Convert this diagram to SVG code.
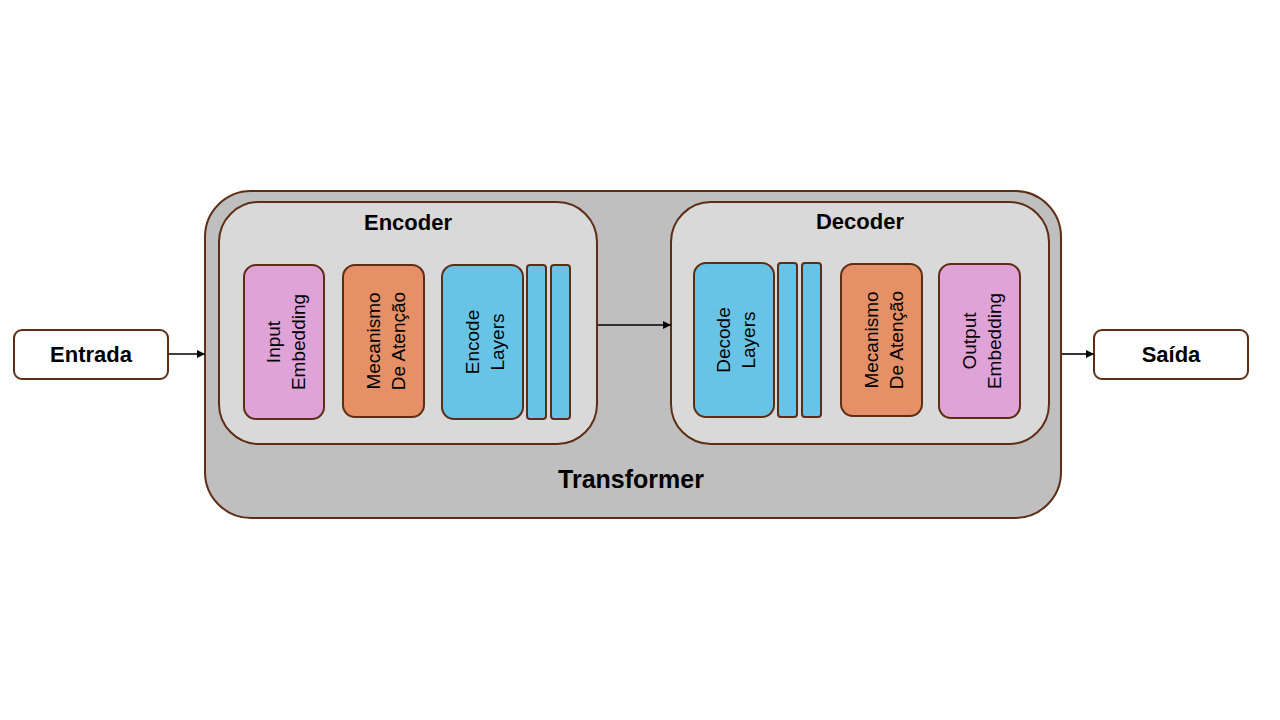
<svg xmlns="http://www.w3.org/2000/svg" width="1280" height="720" viewBox="0 0 1280 720">
<defs>
<marker id="ah" viewBox="0 0 10 10" refX="10" refY="5" markerWidth="8" markerHeight="8" markerUnits="userSpaceOnUse" orient="auto">
<path d="M0,0 L10,5 L0,10 z" fill="#000"/>
</marker>
<style>
.st{stroke:#5E2E14;stroke-width:2}
.outer{fill:#BFBFBF}
.inner{fill:#D9D9D9}
.pink{fill:#E0A3D8}
.orange{fill:#E59066}
.blue{fill:#68C4E6}
.white{fill:#FFFFFF}
.b{font-family:"Liberation Sans",Arial,sans-serif;font-weight:bold;fill:#000;text-anchor:middle}
.v{font-family:"Liberation Sans",Arial,sans-serif;font-size:19px;fill:#000;text-anchor:middle}
.conn{stroke:#000;stroke-width:1.6;fill:none;marker-end:url(#ah)}
</style>
</defs>
<rect width="1280" height="720" fill="#FFFFFF"/>

<g id="transformer">
<rect class="outer st" x="205" y="191" width="856" height="327" rx="46"/>
<text class="b" x="631" y="488" font-size="25">Transformer</text>
</g>

<g id="encoder">
<rect class="inner st" x="219" y="202" width="378" height="242" rx="40"/>
<text class="b" x="408" y="230" font-size="22">Encoder</text>
</g>

<g id="decoder">
<rect class="inner st" x="671" y="202" width="378" height="242" rx="40"/>
<text class="b" x="860" y="229" font-size="22">Decoder</text>
</g>

<g id="input-embedding">
<rect class="pink st" x="244" y="265" width="80" height="154" rx="12"/>
<g transform="translate(284,342) rotate(-90)">
<text class="v" x="0" y="-4">Input</text>
<text class="v" x="0" y="21">Embedding</text>
</g>
</g>

<g id="enc-attention">
<rect class="orange st" x="343" y="265" width="81" height="152" rx="12"/>
<g transform="translate(383.5,341) rotate(-90)">
<text class="v" x="0" y="-4">Mecanismo</text>
<text class="v" x="0" y="21">De Atenção</text>
</g>
</g>

<g id="encode-layers">
<rect class="blue st" x="442" y="265" width="81" height="154" rx="12"/>
<rect class="blue st" x="527" y="265" width="19" height="154" rx="3"/>
<rect class="blue st" x="551" y="265" width="19" height="154" rx="3"/>
<g transform="translate(482.5,342) rotate(-90)">
<text class="v" x="0" y="-4">Encode</text>
<text class="v" x="0" y="21">Layers</text>
</g>
</g>

<g id="decode-layers">
<rect class="blue st" x="694" y="263" width="80" height="154" rx="12"/>
<rect class="blue st" x="778" y="263" width="19" height="154" rx="3"/>
<rect class="blue st" x="802" y="263" width="19" height="154" rx="3"/>
<g transform="translate(734,340) rotate(-90)">
<text class="v" x="0" y="-4">Decode</text>
<text class="v" x="0" y="21">Layers</text>
</g>
</g>

<g id="dec-attention">
<rect class="orange st" x="841" y="264" width="81" height="152" rx="12"/>
<g transform="translate(881.5,340) rotate(-90)">
<text class="v" x="0" y="-4">Mecanismo</text>
<text class="v" x="0" y="21">De Atenção</text>
</g>
</g>

<g id="output-embedding">
<rect class="pink st" x="939" y="264" width="81" height="154" rx="12"/>
<g transform="translate(979.5,341) rotate(-90)">
<text class="v" x="0" y="-4">Output</text>
<text class="v" x="0" y="21">Embedding</text>
</g>
</g>

<g id="entrada">
<rect class="white st" x="14" y="330" width="154" height="49" rx="8"/>
<text class="b" x="91" y="362" font-size="22">Entrada</text>
</g>

<g id="saida">
<rect class="white st" x="1094" y="330" width="154" height="49" rx="8"/>
<text class="b" x="1171" y="362" font-size="22">Saída</text>
</g>

<g id="connectors">
<line class="conn" x1="169" y1="354" x2="205" y2="354"/>
<line class="conn" x1="598" y1="325" x2="671" y2="325"/>
<line class="conn" x1="1062" y1="354" x2="1094" y2="354"/>
</g>
</svg>
